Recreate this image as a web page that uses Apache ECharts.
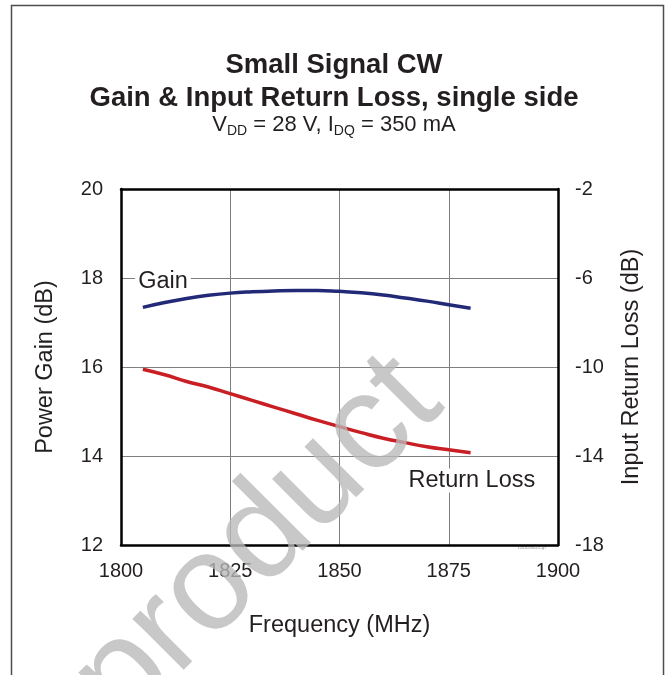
<!DOCTYPE html>
<html>
<head>
<meta charset="utf-8">
<script src="https://cdn.jsdelivr.net/npm/echarts@6/dist/echarts.min.js"></script>
<style>
  html, body { margin: 0; padding: 0; background: #fff; }
  #chart { width: 668px; height: 675px; }
</style>
</head>
<body>
<div id="chart"></div>
<script>
// frequency points (MHz)
var freq = [1805, 1810, 1815, 1820, 1825, 1830, 1835, 1840, 1845, 1850, 1855, 1860, 1865, 1870, 1875, 1880];
// power gain (dB), left axis
var gain = [17.34, 17.45, 17.54, 17.61, 17.66, 17.69, 17.71, 17.72, 17.72, 17.70, 17.67, 17.62, 17.55, 17.48, 17.40, 17.32];
// input return loss (dB), right axis
var returnLoss = [-10.1, -10.35, -10.65, -10.9, -11.2, -11.5, -11.8, -12.1, -12.4, -12.68, -12.95, -13.2, -13.4, -13.58, -13.72, -13.85];

var textColor = '#231f20';
var font = 'Liberation Sans, Arial, sans-serif';

function pairs(xs, ys) {
  var out = [];
  for (var i = 0; i < xs.length; i++) out.push([xs[i], ys[i]]);
  return out;
}

var chart = echarts.init(document.getElementById('chart'));

chart.setOption({
  animation: false,
  backgroundColor: '#fff',
  textStyle: { fontFamily: font },
  title: [{
    text: 'Small Signal CW\nGain & Input Return Loss, single side',
    left: 'center',
    top: 44,
    textStyle: { fontSize: 27.5, fontWeight: 'bold', lineHeight: 33, color: textColor, fontFamily: font }
  }, {
    text: 'V{sub|DD} = 28 V, I{sub|DQ} = 350 mA',
    left: 'center',
    top: 107,
    textStyle: {
      fontSize: 22, fontWeight: 'normal', color: textColor, fontFamily: font,
      rich: {
        sub: { fontSize: 14, fontWeight: 'normal', color: textColor, fontFamily: font, padding: [12, 0, 0, 0] }
      }
    }
  }],
  grid: { left: 121, right: 110, top: 189, bottom: 130 },
  xAxis: [{
    type: 'value', min: 1800, max: 1900, interval: 25,
    name: 'Frequency (MHz)', nameLocation: 'middle', nameGap: 69,
    nameTextStyle: { fontSize: 23.5, color: textColor },
    axisLine: { show: true, lineStyle: { color: '#000', width: 2.5 } },
    axisTick: { show: false },
    axisLabel: { fontSize: 20, color: textColor, margin: 16, formatter: function (v) { return String(v); } },
    splitLine: { show: true, lineStyle: { color: '#7f7f7f', width: 1 } }
  }, {
    type: 'value', min: 1800, max: 1900, position: 'top',
    axisLine: { show: true, lineStyle: { color: '#000', width: 2.5 } },
    axisTick: { show: false }, axisLabel: { show: false }, splitLine: { show: false }
  }],
  yAxis: [{
    type: 'value', min: 12, max: 20, interval: 2,
    name: 'Power Gain (dB)', nameLocation: 'middle', nameGap: 63,
    nameTextStyle: { fontSize: 23.5, color: textColor },
    axisLine: { show: true, lineStyle: { color: '#000', width: 2.5 } },
    axisTick: { show: false },
    axisLabel: { fontSize: 20, color: textColor, margin: 18 },
    splitLine: { show: true, lineStyle: { color: '#7f7f7f', width: 1 } }
  }, {
    type: 'value', min: -18, max: -2, interval: 4, position: 'right',
    name: 'Input Return Loss (dB)', nameLocation: 'middle', nameGap: 62, nameRotate: 90,
    nameTextStyle: { fontSize: 23.5, color: textColor },
    axisLine: { show: true, lineStyle: { color: '#000', width: 2.5 } },
    axisTick: { show: false },
    axisLabel: { fontSize: 20, color: textColor, margin: 17 },
    splitLine: { show: false }
  }],
  series: [{
    name: 'Gain', type: 'line', yAxisIndex: 0, smooth: true, symbol: 'none',
    lineStyle: { color: '#222a78', width: 3.5 },
    data: pairs(freq, gain),
    markPoint: {
      symbol: 'circle', symbolSize: 0,
      label: { show: true, position: 'inside', formatter: 'Gain', fontSize: 23.5, color: textColor, backgroundColor: '#fff', padding: [0, 3] },
      data: [{ coord: [1809.6, 17.92] }]
    }
  }, {
    name: 'Return Loss', type: 'line', yAxisIndex: 1, smooth: true, symbol: 'none',
    lineStyle: { color: '#c81e24', width: 3.5 },
    data: pairs(freq, returnLoss),
    markPoint: {
      symbol: 'circle', symbolSize: 0,
      label: { show: true, position: 'inside', formatter: 'Return Loss', fontSize: 23.5, color: textColor, backgroundColor: '#fff', padding: [0, 3] },
      data: [{ coord: [1880.3, -15.1] }]
    }
  }],
  graphic: [{
    // outer frame
    type: 'rect', silent: true,
    shape: { x: 11.5, y: 5.5, width: 652, height: 680 },
    style: { fill: 'none', stroke: '#4d4d4d', lineWidth: 1.5 }
  }, {
    type: 'text', silent: true, x: 532, y: 548,
    style: { text: 'c201020v-c2-g7', fontSize: 4, fill: '#8a8a8a', align: 'center', verticalAlign: 'middle', fontFamily: font }
  }, {
    // watermark
    type: 'text', silent: true, z: 100,
    x: 258, y: 542, rotation: 45 * Math.PI / 180,
    style: { text: 'product', fontSize: 137, fill: 'rgba(185,185,185,0.78)', align: 'center', verticalAlign: 'middle', fontFamily: font }
  }]
});
</script>
</body>
</html>
